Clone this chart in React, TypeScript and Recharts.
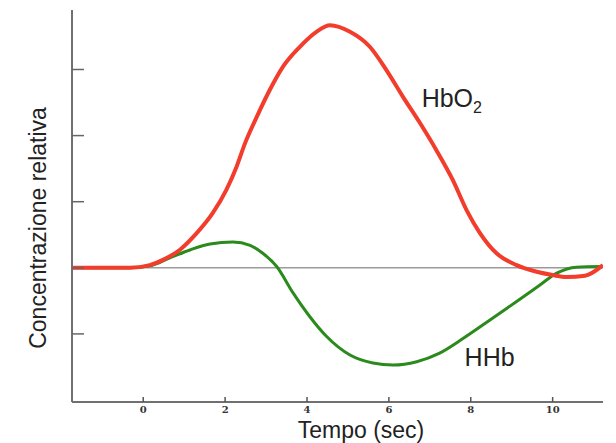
import React from 'react'
import { LineChart, Line, XAxis, YAxis, ReferenceLine, ReferenceDot, Label } from 'recharts'

// time (s) and relative concentration
const hbo2Time = [-1.74, -0.33, 0.16, 0.48, 0.89, 1.3, 1.7, 2.03, 2.28, 2.49, 2.77, 3.09, 3.41, 3.82, 4.23, 4.56, 5.05, 5.54, 5.94, 6.34, 6.76, 7.16, 7.56, 7.9, 8.22, 8.63, 9.12, 9.61, 10.0, 10.34, 10.79, 11.23]
const hbo2Values = [0, 0, 0.04, 0.12, 0.27, 0.52, 0.83, 1.18, 1.53, 1.89, 2.28, 2.69, 3.04, 3.34, 3.57, 3.67, 3.57, 3.34, 2.99, 2.59, 2.19, 1.78, 1.33, 0.87, 0.53, 0.22, 0.04, -0.06, -0.11, -0.14, -0.12, 0.04]

const hhbTime = [-1.74, -0.33, 0.16, 0.65, 1.14, 1.63, 2.19, 2.61, 2.92, 3.26, 3.66, 4.07, 4.48, 5.05, 5.61, 6.1, 6.68, 7.24, 7.81, 8.47, 9.12, 9.69, 10.1, 10.58, 11.19]
const hhbValues = [0, 0, 0.03, 0.15, 0.27, 0.36, 0.39, 0.34, 0.22, 0.02, -0.38, -0.74, -1.04, -1.32, -1.44, -1.47, -1.42, -1.29, -1.07, -0.79, -0.51, -0.26, -0.08, 0.01, 0.02]

const xTicks = [0, 2, 4, 6, 8, 10]
const yTicks = [-1, 0, 1, 2, 3]

const hbo2Data = hbo2Time.map((t, i) => ({ t, v: hbo2Values[i] }))
const hhbData = hhbTime.map((t, i) => ({ t, v: hhbValues[i] }))

const axisColor = '#707070'
const font = '"Liberation Sans", Arial, sans-serif'

const XTick = (props: any) => {
  const { x, y, payload } = props
  return (
    <g>
      <line x1={x} x2={x} y1={y - 5} y2={y} stroke="#555" strokeWidth={1.5} />
      <text x={x} y={y + 11} textAnchor="middle" fontFamily='"DejaVu Serif", serif' fontWeight="bold" fontSize={10} fill="#333">
        {payload.value}
      </text>
    </g>
  )
}

const YTick = (props: any) => {
  const { x, y } = props
  return <line x1={x} x2={x + 12} y1={y} y2={y} stroke="#666" strokeWidth={1.5} />
}

const SeriesLabel = ({ viewBox, text, sub }: any) => {
  const { x, y } = viewBox
  return (
    <text x={x} y={y} fontFamily={font} fontSize={25} fill="#222">
      {text}
      {sub && <tspan fontSize={16} dy={6}>{sub}</tspan>}
    </text>
  )
}

export default function App() {
  return (
    <div style={{ position: 'fixed', left: 0, top: 0, width: 616, height: 443, background: '#fff' }}>
      <LineChart width={616} height={443} margin={{ top: 10, right: 13, left: 32, bottom: 0 }}>
        <XAxis
          dataKey="t"
          type="number"
          domain={[-1.74, 11.23]}
          allowDataOverflow
          ticks={xTicks}
          tickSize={0}
          tickMargin={0}
          tickLine={false}
          tick={<XTick />}
          height={41}
          stroke={axisColor}
          strokeWidth={2}
        >
          <Label
            content={() => (
              <text x={361} y={438} textAnchor="middle" fontFamily={font} fontSize={23} fill="#222">
                Tempo (sec)
              </text>
            )}
          />
        </XAxis>
        <YAxis
          type="number"
          domain={[-2.03, 3.9]}
          allowDataOverflow
          ticks={yTicks}
          tickSize={0}
          tickMargin={0}
          tickLine={false}
          tick={<YTick />}
          width={40}
          stroke={axisColor}
          strokeWidth={2}
        >
          <Label
            content={() => (
              <text
                x={0}
                y={0}
                transform="translate(46 228) rotate(-90)"
                textAnchor="middle"
                fontFamily={font}
                fontSize={23}
                fill="#222"
              >
                Concentrazione relativa
              </text>
            )}
          />
        </YAxis>
        <ReferenceLine y={0} stroke="#9a9a9a" strokeWidth={1.5} />
        <Line
          data={hhbData}
          dataKey="v"
          type="monotone"
          stroke="#2b8a1c"
          strokeWidth={3}
          dot={false}
          isAnimationActive={false}
        />
        <Line
          data={hbo2Data}
          dataKey="v"
          type="monotone"
          stroke="#f23c2c"
          strokeWidth={4}
          dot={false}
          isAnimationActive={false}
        />
        <ReferenceDot x={6.8} y={2.43} r={0} fill="none" stroke="none">
          <Label content={(p: any) => <SeriesLabel viewBox={p.viewBox} text="HbO" sub="2" />} />
        </ReferenceDot>
        <ReferenceDot x={7.85} y={-1.49} r={0} fill="none" stroke="none">
          <Label content={(p: any) => <SeriesLabel viewBox={p.viewBox} text="HHb" />} />
        </ReferenceDot>
      </LineChart>
    </div>
  )
}
